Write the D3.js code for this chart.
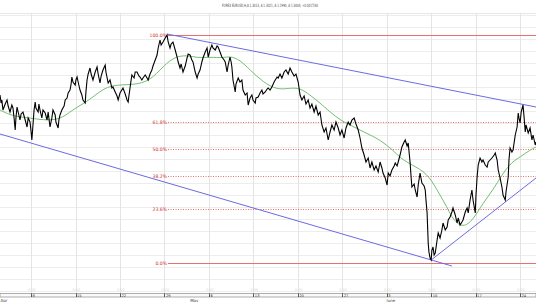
<!DOCTYPE html>
<html>
<head>
<meta charset="utf-8">
<script src="https://cdn.jsdelivr.net/npm/d3@7"></script>
<style>
  html, body { margin: 0; padding: 0; background: #fff; overflow: hidden; }
  svg { display: block; font-family: "DejaVu Sans", sans-serif; }
</style>
</head>
<body>
<div id="chart"></div>
<script>
// chart data ------------------------------------------------------------------
const title = "FOREX EURUSD,H,A 1.3013, A 1.3021, A 1.2990, A 1.3004, +0.0017/30";

// hourly closes: [bar index from left edge, price]
const closes = [
  [0,1.3136],[3,1.3120],[5,1.3126],[8,1.3106],[14,1.3118],[19,1.3126],[22,1.3114],[27,1.3102],
  [32,1.3116],[35,1.3110],[38,1.3090],[41,1.3066],[43,1.3090],[46,1.3112],[49,1.3102],[54,1.3086],
  [57,1.3098],[62,1.3102],[68,1.3086],[73,1.3072],[76,1.3090],[81,1.3082],[84,1.3062],[86,1.3046],
  [89,1.3076],[92,1.3106],[95,1.3122],[97,1.3110],[103,1.3102],[105,1.3118],[108,1.3106],[113,1.3090],
  [116,1.3106],[122,1.3100],[127,1.3086],[130,1.3102],[135,1.3072],[140,1.3090],[143,1.3106],[149,1.3096],
  [151,1.3082],[157,1.3070],[159,1.3086],[162,1.3096],[167,1.3106],[173,1.3114],[176,1.3126],[181,1.3130],
  [184,1.3140],[189,1.3146],[192,1.3158],[194,1.3172],[197,1.3162],[203,1.3156],[205,1.3166],[208,1.3172],
  [211,1.3162],[216,1.3146],[221,1.3136],[224,1.3126],[230,1.3120],[232,1.3142],[235,1.3166],[238,1.3178],
  [243,1.3190],[246,1.3178],[251,1.3166],[257,1.3182],[262,1.3192],[265,1.3178],[270,1.3160],[273,1.3174],
  [278,1.3186],[284,1.3196],[286,1.3182],[292,1.3160],[297,1.3166],[302,1.3150],[305,1.3152],[311,1.3142],
  [316,1.3134],[319,1.3126],[324,1.3140],[332,1.3150],[338,1.3138],[343,1.3126],[346,1.3122],[348,1.3134],
  [351,1.3150],[354,1.3166],[356,1.3176],[362,1.3170],[365,1.3182],[370,1.3182],[375,1.3174],[378,1.3172],
  [383,1.3166],[386,1.3170],[392,1.3176],[397,1.3170],[400,1.3166],[405,1.3178],[410,1.3186],[413,1.3194],
  [419,1.3206],[424,1.3216],[427,1.3230],[432,1.3246],[435,1.3236],[440,1.3242],[446,1.3250],[451,1.3256],
  [454,1.3242],[459,1.3230],[462,1.3238],[467,1.3242],[473,1.3226],[478,1.3212],[481,1.3202],[486,1.3190],
  [489,1.3198],[494,1.3182],[500,1.3194],[505,1.3210],[508,1.3218],[513,1.3216],[518,1.3206],[521,1.3202],
  [527,1.3182],[532,1.3170],[535,1.3178],[540,1.3186],[545,1.3202],[548,1.3210],[554,1.3222],[559,1.3230],
  [562,1.3212],[567,1.3226],[572,1.3236],[575,1.3230],[581,1.3226],[586,1.3234],[589,1.3232],[594,1.3222],
  [599,1.3212],[605,1.3206],[608,1.3202],[613,1.3182],[616,1.3196],[621,1.3212],[624,1.3202],[626,1.3192],
  [629,1.3166],[635,1.3142],[637,1.3158],[643,1.3170],[648,1.3162],[653,1.3166],[656,1.3146],[662,1.3136],
  [667,1.3140],[670,1.3116],[675,1.3130],[680,1.3136],[683,1.3126],[689,1.3120],[691,1.3130],[697,1.3132],
  [702,1.3140],[707,1.3146],[710,1.3138],[716,1.3142],[721,1.3148],[724,1.3150],[729,1.3146],[734,1.3152],
  [740,1.3162],[743,1.3166],[748,1.3172],[751,1.3170],[756,1.3178],[761,1.3170],[767,1.3182],[772,1.3186],
  [778,1.3178],[783,1.3190],[788,1.3182],[794,1.3174],[799,1.3178],[805,1.3162],[810,1.3136],[815,1.3126],
  [821,1.3134],[826,1.3118],[832,1.3126],[837,1.3110],[842,1.3118],[848,1.3102],[853,1.3114],[859,1.3096],
  [864,1.3102],[869,1.3076],[875,1.3062],[880,1.3070],[886,1.3046],[891,1.3062],[896,1.3076],[902,1.3066],
  [907,1.3082],[913,1.3070],[918,1.3056],[923,1.3066],[929,1.3050],[934,1.3070],[940,1.3082],[945,1.3076],
  [950,1.3086],[956,1.3090],[961,1.3078],[967,1.3066],[972,1.3050],[977,1.3030],[983,1.3016],[988,1.3002],
  [994,1.3010],[999,1.2990],[1004,1.3002],[1010,1.2986],[1015,1.2994],[1021,1.2982],[1026,1.3002],[1031,1.2990],
  [1034,1.2980],[1040,1.2970],[1045,1.2956],[1048,1.2980],[1053,1.2974],[1058,1.2986],[1064,1.2994],[1067,1.3000],
  [1072,1.2994],[1075,1.3002],[1080,1.3016],[1085,1.3032],[1091,1.3042],[1094,1.3046],[1099,1.3034],[1102,1.3040],
  [1107,1.3002],[1110,1.2970],[1112,1.2952],[1118,1.2958],[1121,1.2946],[1126,1.2932],[1129,1.2956],[1134,1.2980],
  [1139,1.2960],[1145,1.2954],[1148,1.2946],[1150,1.2926],[1153,1.2900],[1156,1.2840],[1158,1.2822],[1161,1.2810],
  [1164,1.2806],[1166,1.2826],[1169,1.2832],[1172,1.2816],[1175,1.2820],[1180,1.2846],[1183,1.2860],[1188,1.2850],
  [1193,1.2866],[1196,1.2880],[1202,1.2866],[1207,1.2872],[1210,1.2886],[1215,1.2892],[1220,1.2902],[1223,1.2910],
  [1229,1.2896],[1234,1.2880],[1237,1.2890],[1242,1.2876],[1247,1.2882],[1250,1.2886],[1256,1.2902],[1261,1.2910],
  [1264,1.2900],[1269,1.2926],[1274,1.2946],[1277,1.2926],[1283,1.2900],[1285,1.2936],[1288,1.2972],[1291,1.2996],
  [1296,1.3010],[1301,1.3002],[1304,1.3006],[1310,1.2996],[1315,1.2992],[1318,1.3002],[1323,1.3006],[1328,1.3010],
  [1334,1.3016],[1337,1.3020],[1342,1.3006],[1345,1.2986],[1350,1.2970],[1355,1.2952],[1358,1.2936],[1364,1.2926],
  [1366,1.2942],[1372,1.2972],[1374,1.3006],[1377,1.3030],[1382,1.3022],[1385,1.3026],[1391,1.3056],[1396,1.3072],
  [1399,1.3100],[1401,1.3090],[1404,1.3080],[1407,1.3102],[1412,1.3116],[1415,1.3090],[1418,1.3062],[1420,1.3076],
  [1426,1.3060],[1431,1.3070],[1436,1.3046],[1439,1.3056],[1445,1.3036],[1447,1.3042]
];

// moving average (green)
const movingAvg = [
  [0,1.3106],[27,1.3096],[54,1.3092],[81,1.3090],[116,1.3086],[162,1.3086],[194,1.3106],[243,1.3126],
  [289,1.3156],[343,1.3156],[397,1.3160],[432,1.3186],[467,1.3212],[505,1.3216],[532,1.3210],[567,1.3212],
  [602,1.3210],[621,1.3214],[648,1.3206],[675,1.3186],[710,1.3162],[748,1.3146],[783,1.3150],[810,1.3150],
  [837,1.3136],[864,1.3120],[891,1.3102],[918,1.3086],[945,1.3076],[972,1.3066],[999,1.3056],[1026,1.3046],
  [1061,1.3026],[1080,1.3010],[1112,1.2996],[1153,1.2980],[1180,1.2946],[1207,1.2912],[1223,1.2886],[1250,1.2870],
  [1277,1.2886],[1304,1.2920],[1331,1.2946],[1358,1.2980],[1382,1.3002],[1404,1.3012],[1431,1.3026],[1447,1.3032]
];

// trend lines (blue), each from two anchor points
const trendLines = [
  [[451, 1.3258], [1447, 1.3112]],
  [[0, 1.3058], [1220, 1.2794]],
  [[1164, 1.2806], [1447, 1.2970]]
];

// fibonacci retracement
const fibHigh = 1.3256;
const fibLow = 1.2800;
const fibStartBar = 451;
const fibLevels = [0, 0.236, 0.382, 0.5, 0.618, 1];
const fibLabels = ["0.0%", "23.6%", "38.2%", "50.0%", "61.8%", "100.0%"];

// time axis: weekly ticks (bars) and labels
const tickBars = [84, 204, 324, 444, 564, 684, 804, 924, 1044, 1164, 1284, 1404];
const tickLabels = ["8", "15", "22", "29", "6", "13", "20", "27", "3", "10", "17", "24"];
const monthBars = [0, 512, 1042];
const monthLabels = ["Apr", "May", "June"];

// horizontal grid prices
const gridPrices = [1.2744, 1.2768, 1.2792, 1.2816, 1.2840, 1.2864, 1.2888, 1.2912, 1.2936, 1.2960,
  1.2984, 1.3008, 1.3032, 1.3056, 1.3080, 1.3104, 1.3128, 1.3152, 1.3176, 1.3200, 1.3224, 1.3248, 1.3272, 1.3296, 1.3320];

// draw ----------------------------------------------------------------------------
const width = 536;
const height = 302;
const plotTop = 13;
const plotBottom = 293;

const svg = d3.select('#chart')
    .append('svg')
    .attr('width', width)
    .attr('height', height);

const x = d3.scaleLinear().domain([0, 1447]).range([0, width]);
const y = d3.scaleLinear().domain([fibLow, fibHigh]).range([263, 35]);

svg.append('clipPath').attr('id', 'plot')
    .append('rect')
    .attr('x', 0).attr('y', plotTop)
    .attr('width', width).attr('height', plotBottom - plotTop);

// grid
const grid = svg.append('g').attr('clip-path', 'url(#plot)');
grid.selectAll('.hgrid')
    .data(gridPrices)
    .join('line')
    .attr('x1', 0).attr('x2', width)
    .attr('y1', d => Math.round(y(d)) + 0.5)
    .attr('y2', d => Math.round(y(d)) + 0.5)
    .attr('stroke', '#ededed')
    .attr('stroke-width', 1);

grid.selectAll('.vgrid')
    .data(tickBars)
    .join('line')
    .attr('x1', d => Math.round(x(d)) + 0.5)
    .attr('x2', d => Math.round(x(d)) + 0.5)
    .attr('y1', plotTop).attr('y2', plotBottom)
    .attr('stroke', '#e4e4e4')
    .attr('stroke-width', 1);

// top border line
svg.append('line')
    .attr('x1', 0).attr('x2', width)
    .attr('y1', plotTop + 0.5).attr('y2', plotTop + 0.5)
    .attr('stroke', '#e6e6e6');

// title
svg.append('text')
    .attr('x', 222)
    .attr('y', 6.5)
    .attr('font-size', '4.4px')
    .attr('fill', '#444')
    .attr('textLength', 96)
    .attr('lengthAdjust', 'spacingAndGlyphs')
    .text(title);

// fibonacci lines: solid rules for 0% and 100%, dotted for the rest
const fib = svg.append('g');
fibLevels.forEach((lv, i) => {
    const price = fibLow + lv * (fibHigh - fibLow);
    const yy = Math.round(y(price));
    const solid = (lv === 0 || lv === 1);
    if (solid) {
        fib.append('rect')
            .attr('x', Math.round(x(fibStartBar)) + 1)
            .attr('y', yy)
            .attr('width', width - Math.round(x(fibStartBar)) - 1)
            .attr('height', 1)
            .attr('fill', '#ea6f6f');
    } else {
        fib.append('line')
            .attr('x1', x(fibStartBar) + 1)
            .attr('x2', width)
            .attr('y1', yy + 0.5).attr('y2', yy + 0.5)
            .attr('stroke', '#e35a5a')
            .attr('stroke-width', 0.9)
            .attr('stroke-dasharray', '1,1.5');
    }
    fib.append('text')
        .attr('x', x(fibStartBar))
        .attr('y', yy + 2.1)
        .attr('text-anchor', 'end')
        .attr('font-size', '4.6px')
        .attr('fill', '#d03030')
        .text(fibLabels[i]);
});

// trend lines
svg.append('g').attr('clip-path', 'url(#plot)')
    .selectAll('line')
    .data(trendLines)
    .join('line')
    .attr('x1', d => x(d[0][0])).attr('y1', d => y(d[0][1]))
    .attr('x2', d => x(d[1][0])).attr('y2', d => y(d[1][1]))
    .attr('stroke', '#6b6be0')
    .attr('stroke-width', 1);

// moving average
const maLine = d3.line()
    .x(d => x(d[0]))
    .y(d => y(d[1]))
    .curve(d3.curveBasis);

svg.append('path')
    .datum(movingAvg)
    .attr('clip-path', 'url(#plot)')
    .attr('d', maLine)
    .attr('fill', 'none')
    .attr('stroke', '#62b862')
    .attr('stroke-width', 0.9);

// price
const priceLine = d3.line()
    .x(d => x(d[0]))
    .y(d => y(d[1]));

svg.append('path')
    .datum(closes)
    .attr('clip-path', 'url(#plot)')
    .attr('d', priceLine)
    .attr('fill', 'none')
    .attr('stroke', '#000')
    .attr('stroke-width', 1.1);

// bottom axis band
const axis = svg.append('g');
axis.append('rect')
    .attr('x', 0).attr('y', 293.5)
    .attr('width', width).attr('height', 3.5)
    .attr('fill', '#fafafa')
    .attr('stroke', '#9a9a9a')
    .attr('stroke-width', 0.8);

axis.selectAll('.tick')
    .data(tickBars)
    .join('line')
    .attr('x1', d => Math.round(x(d)) + 0.5)
    .attr('x2', d => Math.round(x(d)) + 0.5)
    .attr('y1', 293.5).attr('y2', 297)
    .attr('stroke', '#333')
    .attr('stroke-width', 0.8);

axis.selectAll('.tlabel')
    .data(tickBars)
    .join('text')
    .attr('x', d => x(d) + 1.5)
    .attr('y', 297)
    .attr('font-size', '3.6px')
    .attr('fill', '#333')
    .text((d, i) => tickLabels[i]);

axis.selectAll('.hlabel')
    .data(tickBars)
    .join('text')
    .attr('x', d => x(d) - 3)
    .attr('y', 290.5)
    .attr('font-size', '3.4px')
    .attr('fill', '#d8d8d8')
    .text('0:00');

axis.selectAll('.mlabel')
    .data(monthBars)
    .join('text')
    .attr('x', d => x(d) + 0.5)
    .attr('y', 301.5)
    .attr('font-size', '4px')
    .attr('fill', '#444')
    .text((d, i) => monthLabels[i]);
</script>
</body>
</html>
